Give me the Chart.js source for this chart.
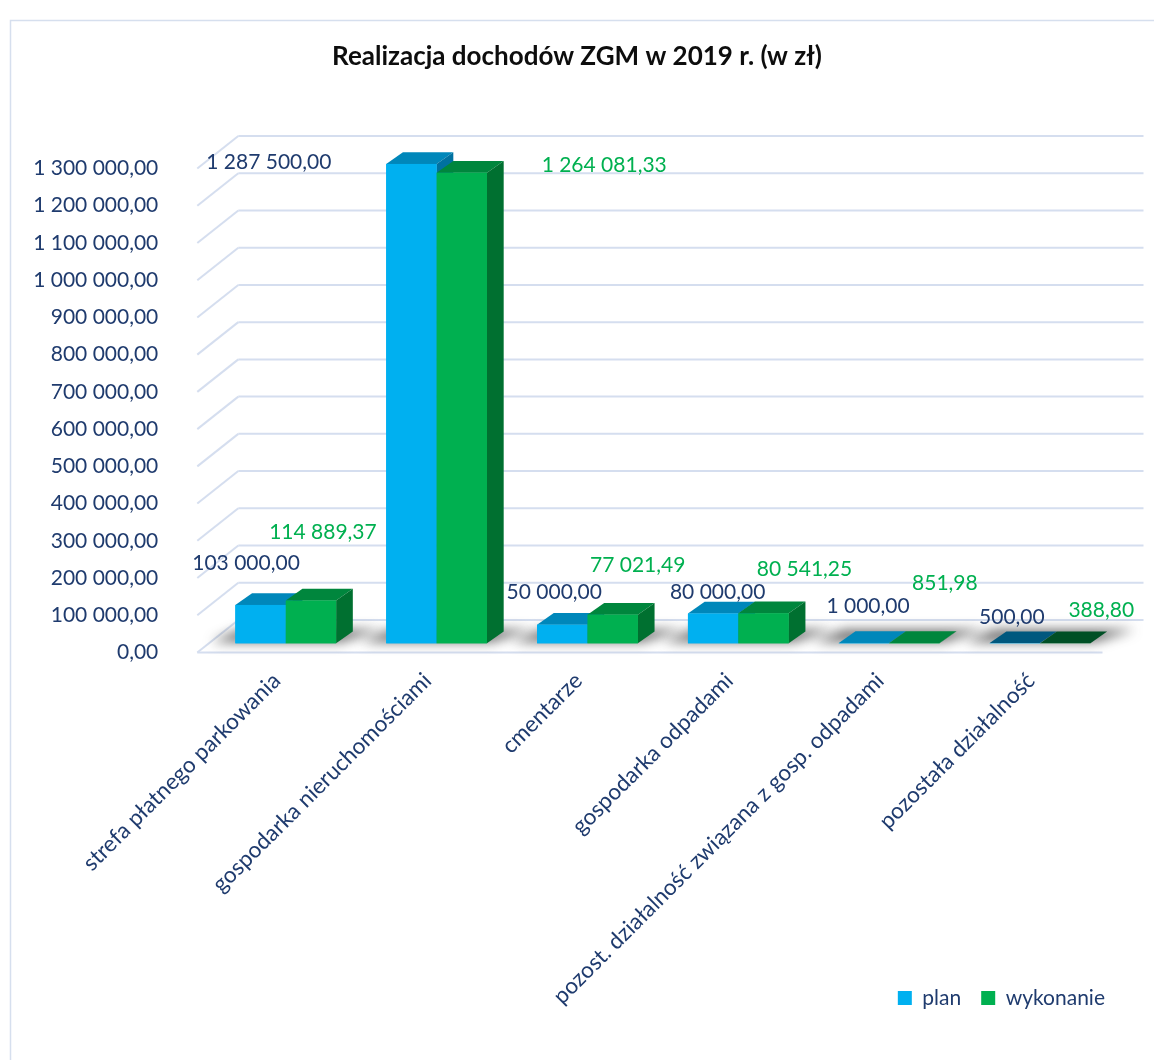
<!DOCTYPE html>
<html>
<head>
<meta charset="utf-8">
<script src="https://cdn.jsdelivr.net/npm/chart.js@4.4.1/dist/chart.umd.min.js"></script>
<style>
  html, body { margin: 0; padding: 0; background: #ffffff; }
  canvas { display: block; }
</style>
</head>
<body>
<canvas id="c" width="1154" height="1060"></canvas>
<script>
// ---------------- DATA ----------------
const categories = [
  'strefa płatnego parkowania',
  'gospodarka nieruchomościami',
  'cmentarze',
  'gospodarka odpadami',
  'pozost. działalność związana z gosp. odpadami',
  'pozostała działalność'
];
const seriesNames = ['plan', 'wykonanie'];
const planValues = [103000.00, 1287500.00, 50000.00, 80000.00, 1000.00, 500.00];
const wykonanieValues = [114889.37, 1264081.33, 77021.49, 80541.25, 851.98, 388.80];
const chartTitle = 'Realizacja dochodów ZGM w 2019 r. (w zł)';
const yMin = 0, yMax = 1300000, yStep = 100000;

// ---------------- STYLE ----------------
const FONT = 'Lato, "Open Sans", sans-serif';
const NAVY = '#1F3B6E';
const GREEN_TXT = '#00B050';
const GRID = '#D5DEEF';
const colorsFront = ['#00B0F0', '#00B050'];
const colorsTop   = ['#0087BA', '#00863D'];
const colorsSide  = ['#0071A0', '#007030'];
const colorsTopFlat = ['#00587E', '#004F25'];
const labelColors = [NAVY, GREEN_TXT];
// projection of the pseudo-3D scene (pixels, relative to the bar plane)
const FRONT = { dx: -13, dy: 9.2 };
const BACK  = { dx: 28,  dy: -23.3 };
const DEPTH = { dx: 16.7, dy: -11.7 };
const BAR_PLANE_SHIFT = 24700; // value offset of the bar plane vs. the front axis
// label offsets relative to each bar's front-top centre
const labelOffsets = [
  [[-14.5, -42], [-142.6, -1.6], [-8, -32.7], [4.5, -21.5], [4, -37], [-3, -26]],
  [[12, -68.6], [142.4, -7], [25, -49.6], [41, -44], [30.5, -60], [36, -33]]
];
const LEGEND_FONT = 21, LEGEND_BOX = 14, LEGEND_PAD = 20;

function fmt(v) {
  const parts = Math.abs(v).toFixed(2).split('.');
  return parts[0].replace(/\B(?=(\d{3})+(?!\d))/g, ' ') + ',' + parts[1];
}

function poly(ctx, pts, fill) {
  ctx.beginPath();
  ctx.moveTo(pts[0][0], pts[0][1]);
  for (let k = 1; k < pts.length; k++) ctx.lineTo(pts[k][0], pts[k][1]);
  ctx.closePath();
  ctx.fillStyle = fill;
  ctx.fill();
}
function line(ctx, x1, y1, x2, y2) {
  ctx.beginPath(); ctx.moveTo(x1, y1); ctx.lineTo(x2, y2); ctx.stroke();
}

const framePlugin = {
  id: 'frame',
  beforeDraw(chart) {
    const ctx = chart.ctx;
    ctx.save();
    ctx.fillStyle = '#ffffff';
    ctx.fillRect(0, 0, chart.width, chart.height);
    ctx.strokeStyle = '#D6DFEE';
    ctx.lineWidth = 1.5;
    ctx.strokeRect(10.5, 20.5, chart.width + 50, chart.height + 50);
    ctx.restore();
  }
};

const placePlugin = {
  id: 'place',
  afterLayout(chart) {
    const L = chart.legend;
    if (L) {
      const itemH = Math.max(LEGEND_FONT, LEGEND_BOX);
      const dx = 1105 + LEGEND_PAD - L.right;
      const dy = 998 - (L.top + LEGEND_PAD + itemH / 2);
      L.left += dx; L.right += dx; L.top += dy; L.bottom += dy;
    }
    const T = chart.titleBlock;
    if (T) {
      const dx = chart.width / 2 - (T.left + T.right) / 2;
      T.left += dx; T.right += dx;
    }
  }
};

const wallsPlugin = {
  id: 'walls',
  beforeDatasetsDraw(chart) {
    const ctx = chart.ctx;
    const ya = chart.scales.y, y2 = chart.scales.y2;
    const L = chart.chartArea.left, R = chart.chartArea.right;
    ctx.save();
    ctx.strokeStyle = GRID;
    ctx.lineWidth = 2;
    ya.ticks.forEach(t => {
      const yb = y2.getPixelForValue(t.value);
      line(ctx, L + FRONT.dx, yb + FRONT.dy, L + BACK.dx, yb + BACK.dy);
      line(ctx, L + BACK.dx, yb + BACK.dy, R + BACK.dx, yb + BACK.dy);
    });
    const y0 = y2.getPixelForValue(0);
    line(ctx, L + FRONT.dx, y0 + FRONT.dy, R + FRONT.dx, y0 + FRONT.dy);
    ctx.restore();

    // soft shadows on the floor
    const m0 = chart.getDatasetMeta(0), m1 = chart.getDatasetMeta(1);
    ctx.save();
    ctx.filter = 'blur(6px)';
    m0.data.forEach((el, i) => {
      const e1 = m1.data[i];
      const x0 = el.x - el.width / 2, x1 = e1.x + e1.width / 2, b = el.base;
      poly(ctx, [[x0 - 24, b - 1], [x1 + 4, b - 1], [x1 + DEPTH.dx + 28, b + DEPTH.dy - 2], [x0 + DEPTH.dx - 12, b + DEPTH.dy - 2]], 'rgba(50,50,50,0.7)');
    });
    ctx.restore();
  }
};

const boxesPlugin = {
  id: 'boxes',
  afterDatasetsDraw(chart) {
    const ctx = chart.ctx;
    const metas = [chart.getDatasetMeta(0), chart.getDatasetMeta(1)];
    ctx.save();
    for (let i = 0; i < categories.length; i++) {
      metas.forEach((m, d) => {
        const el = m.data[i];
        const x0 = el.x - el.width / 2, x1 = el.x + el.width / 2;
        const yt = el.y, yb = el.base;
        const flat = (yb - yt) < 0.25;
        poly(ctx, [[x0, yt], [x1, yt], [x1 + DEPTH.dx, yt + DEPTH.dy], [x0 + DEPTH.dx, yt + DEPTH.dy]], flat ? colorsTopFlat[d] : colorsTop[d]);
        poly(ctx, [[x1, yt], [x1 + DEPTH.dx, yt + DEPTH.dy], [x1 + DEPTH.dx, yb + DEPTH.dy], [x1, yb]], colorsSide[d]);
        ctx.fillStyle = colorsFront[d];
        ctx.fillRect(x0, yt, x1 - x0, yb - yt);
      });
    }
    // data labels
    ctx.font = '21px ' + FONT;
    ctx.textAlign = 'center';
    ctx.textBaseline = 'middle';
    metas.forEach((m, d) => {
      const vals = chart.data.datasets[d].data;
      m.data.forEach((el, i) => {
        const off = labelOffsets[d][i];
        ctx.fillStyle = labelColors[d];
        ctx.fillText(fmt(vals[i]), el.x + off[0], el.y + off[1]);
      });
    });
    ctx.restore();
  }
};

new Chart(document.getElementById('c'), {
  type: 'bar',
  data: {
    labels: categories,
    datasets: [
      { label: seriesNames[0], data: planValues, backgroundColor: colorsFront[0], yAxisID: 'y2', clip: false },
      { label: seriesNames[1], data: wykonanieValues, backgroundColor: colorsFront[1], yAxisID: 'y2', clip: false }
    ]
  },
  options: {
    responsive: false,
    devicePixelRatio: 1,
    animation: false,
    events: [],
    layout: { padding: { left: 0, right: 38.5, top: 0, bottom: 0 } },
    datasets: { bar: { categoryPercentage: 0.668, barPercentage: 1.0, borderWidth: 0 } },
    scales: {
      x: {
        grid: { display: false, drawTicks: false },
        border: { display: false },
        ticks: {
          autoSkip: false, minRotation: 45, maxRotation: 45,
          padding: 15, labelOffset: -9,
          color: NAVY, font: { family: FONT, size: 22.5 }
        },
        afterFit(s) { s.height = 356.5; }
      },
      y: {
        position: 'left',
        min: yMin, max: yMax,
        grid: { display: false, drawTicks: false },
        border: { display: false },
        ticks: {
          stepSize: yStep, padding: 52,
          color: NAVY, font: { family: FONT, size: 21 },
          callback: v => fmt(v)
        },
        afterFit(s) { s.width = 210.3; }
      },
      y2: {
        display: false,
        min: yMin - BAR_PLANE_SHIFT, max: yMax - BAR_PLANE_SHIFT
      }
    },
    plugins: {
      title: {
        display: true, text: chartTitle, color: '#0D0D0D',
        font: { family: FONT, size: 26, weight: 'bold' },
        padding: { top: 41.4, bottom: 95.9 }
      },
      legend: {
        position: 'bottom', align: 'end',
        labels: {
          boxWidth: LEGEND_BOX, boxHeight: LEGEND_BOX, padding: LEGEND_PAD,
          color: NAVY, font: { family: FONT, size: LEGEND_FONT }
        }
      },
      tooltip: { enabled: false }
    }
  },
  plugins: [framePlugin, placePlugin, wallsPlugin, boxesPlugin]
});
</script>
</body>
</html>
